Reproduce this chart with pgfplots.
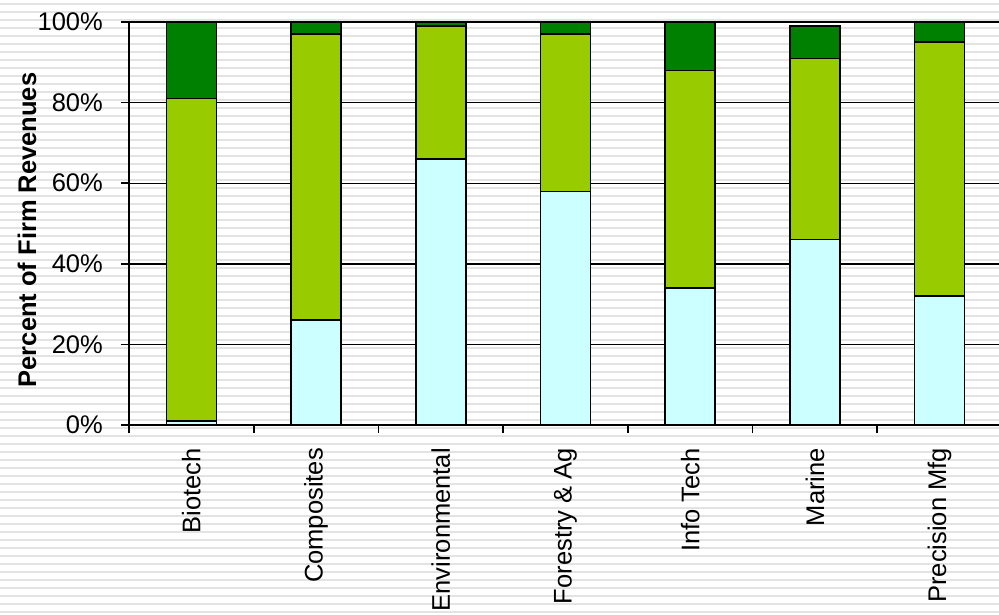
\documentclass[border=0pt]{standalone}
\usepackage{pgfplots}
\pgfplotsset{compat=1.18}
\usepackage{fontspec}
\setmainfont{Liberation Sans}
\definecolor{cyanlt}{HTML}{CCFFFF}
\definecolor{lime}{HTML}{99CC00}
\definecolor{dkgreen}{HTML}{008000}
\pgfplotstableread{
x lower mid upper
0 1 80 19
1 26 71 3
2 66 33 1
3 58 39 3
4 34 54 12
5 46 45 8
6 32 63 5
}\revdata
\begin{document}
\begin{tikzpicture}[x=1pt,y=1pt]
\useasboundingbox (0,0) rectangle (999,614);
\fill[white] (0,0) rectangle (999,614);
\foreach \y in {2,10,...,614} \draw[line width=2.5pt,gray!22] (0,\y) -- (999,\y);
\begin{scope}
\clip (0,0) rectangle (999,614);
\begin{axis}[
  at={(129pt,189pt)}, anchor=south west,
  scale only axis, width=873pt, height=403pt,
  xmin=-0.5, xmax=6.5, ymin=0, ymax=100,
  axis lines*=left,
  axis line style={line width=1.6pt, black},
  ybar stacked, bar width=50pt,
  ymajorgrids, grid style={black, line width=1.4pt},
  ytick={0,20,...,100},
  yticklabels={0\%,20\%,40\%,60\%,80\%,100\%},
  xtick={-0.5,0.5,...,6.5},
  xticklabels={,,,,,,,},
  extra x ticks={0,1,2,3,4,5,6},
  extra x tick labels={Biotech,Composites,Environmental,Forestry \& Ag,Info Tech,Marine,Precision Mfg},
  extra x tick style={major tick length=0pt},
  tick align=outside, major tick length=8pt,
  tick style={black, line width=1.6pt},
  font=\fontsize{25.5}{30}\selectfont,
  yticklabel style={anchor=east, inner sep=0pt},
  yticklabel shift=18pt,
  xticklabel style={rotate=90, anchor=east, inner sep=0pt},
  xticklabel shift=23pt,
  ylabel={\bfseries Percent of Firm Revenues},
  ylabel style={at={(axis description cs:-0.1168,0.484)}, anchor=center},
  every axis plot/.append style={draw=black, line width=1.5pt},
]
\addplot[fill=cyanlt] table[x=x,y=lower] {\revdata};
\addplot[fill=lime] table[x=x,y=mid] {\revdata};
\addplot[fill=dkgreen] table[x=x,y=upper] {\revdata};
\end{axis}
\end{scope}
\end{tikzpicture}
\end{document}
